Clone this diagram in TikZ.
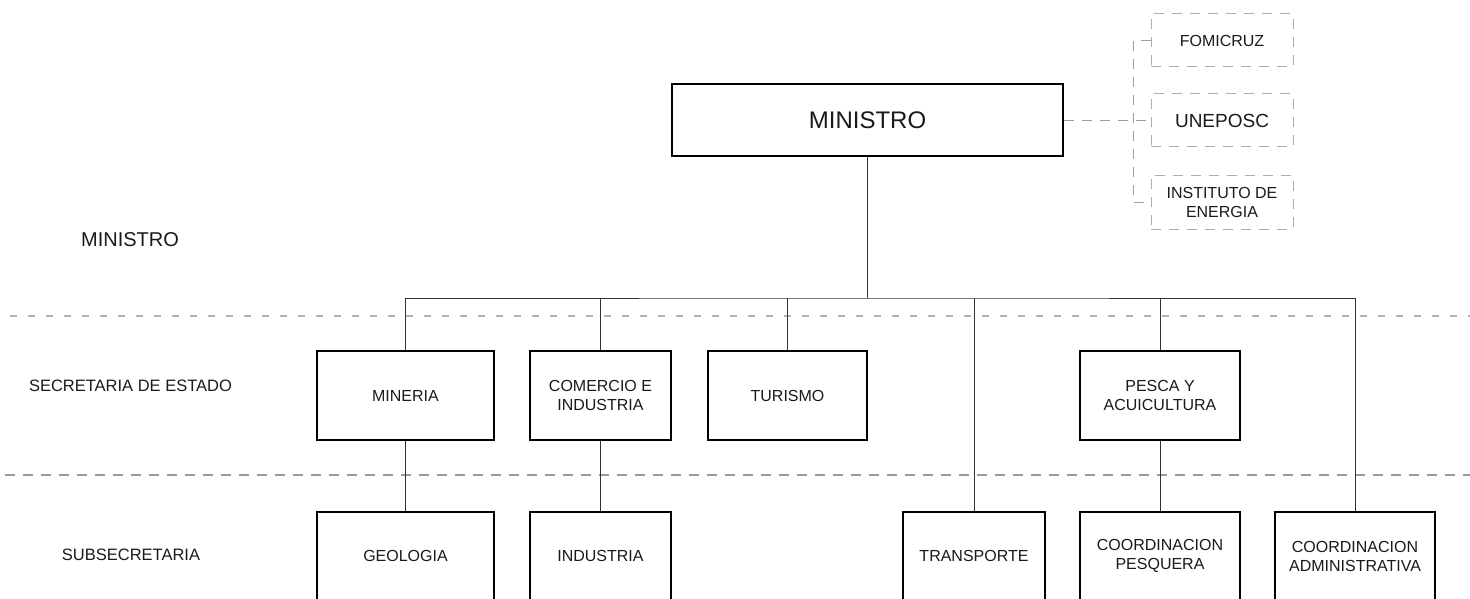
\documentclass[tikz,border=0pt]{standalone}
\usepackage{fontspec}
\setmainfont{Liberation Sans}
\definecolor{txt}{HTML}{1A1A1A}
\definecolor{conn}{HTML}{333333}
\tikzset{
  x=1pt, y=-1pt,
  every node/.style={text=txt, inner sep=0pt, align=center},
  orgbox/.style={draw=black, line width=1.4pt, rectangle, fill=white},
  dbox/.style={draw=gray!65, line width=1pt, dash pattern=on 10pt off 8pt, rectangle},
  link/.style={draw=conn, line width=1pt},
  dlink/.style={draw=gray!75, line width=1pt, dash pattern=on 10pt off 8pt},
  sepA/.style={draw=gray!60, line width=1.1pt, dash pattern=on 7pt off 11pt},
  sepB/.style={draw=gray!80, line width=1.1pt, dash pattern=on 10pt off 8pt},
  bt/.style={font=\fontsize{16}{19}\selectfont},
  side/.style={font=\fontsize{16.5}{19}\selectfont}
}
\begin{document}
\begin{tikzpicture}
\useasboundingbox (0,0) rectangle (1470,599);

% section separators
\draw[sepA] (10,316) -- (1470,316);
\draw[sepB] (5,475) -- (1470,475);

% side labels
\node[font=\fontsize{20}{24}\selectfont] (lmin) at (130,240) {MINISTRO};
\node[side] (lsec) at (130.5,386) {SECRETARIA DE ESTADO};
\node[side] (lsub) at (131,555) {SUBSECRETARIA};

% top
\node[orgbox, minimum width=391pt, minimum height=72pt, font=\fontsize{24}{28}\selectfont] (min) at (867.5,120) {MINISTRO};

% dependent bodies (dashed)
\node[dbox, minimum width=142pt, minimum height=53pt, bt] (fomi) at (1222,40.5) {FOMICRUZ};
\node[dbox, minimum width=142pt, minimum height=53pt, font=\fontsize{19}{22}\selectfont] (unep) at (1222,120.5) {UNEPOSC};
\node[dbox, minimum width=142pt, minimum height=54pt, bt] (inst) at (1222,202) {INSTITUTO DE\\ENERGIA};
\coordinate (dj) at (1133,120.5);
\draw[dlink] (min.east |- dj) -- (unep.west);
\draw[dlink] (fomi.west) -| (dj) |- (inst.west);

% secretarias
\node[orgbox, minimum width=177pt, minimum height=89pt, bt] (miner) at (405.5,395.5) {MINERIA};
\node[orgbox, minimum width=141pt, minimum height=89pt, bt] (comer) at (600.5,395.5) {COMERCIO E\\INDUSTRIA};
\node[orgbox, minimum width=159pt, minimum height=89pt, bt] (turis) at (787.5,395.5) {TURISMO};
\node[orgbox, minimum width=160pt, minimum height=89pt, bt] (pesca) at (1160,395.5) {PESCA Y\\ACUICULTURA};

% subsecretarias
\node[orgbox, minimum width=177pt, minimum height=88pt, bt] (geo) at (405.5,556) {GEOLOGIA};
\node[orgbox, minimum width=141pt, minimum height=88pt, bt] (ind) at (600.5,556) {INDUSTRIA};
\node[orgbox, minimum width=142pt, minimum height=88pt, bt] (trans) at (974,556) {TRANSPORTE};
\node[orgbox, minimum width=160pt, minimum height=88pt, bt] (cpes) at (1160,556) {COORDINACION\\PESQUERA};
\node[orgbox, minimum width=160pt, minimum height=88pt, bt] (cadm) at (1355,556) {COORDINACION\\ADMINISTRATIVA};

% connectors
\coordinate (busc) at (867.5,298);
\draw[link] (min.south) -- (busc);
\draw[link] (miner.north) |- (busc) -| (cadm.north);
\draw[link] (comer.north) -- (comer.north |- busc);
\draw[link] (turis.north) -- (turis.north |- busc);
\draw[link] (trans.north) -- (trans.north |- busc);
\draw[link] (pesca.north) -- (pesca.north |- busc);
\draw[link] (miner.south) -- (geo.north);
\draw[link] (comer.south) -- (ind.north);
\draw[link] (pesca.south) -- (cpes.north);
\end{tikzpicture}
\end{document}
